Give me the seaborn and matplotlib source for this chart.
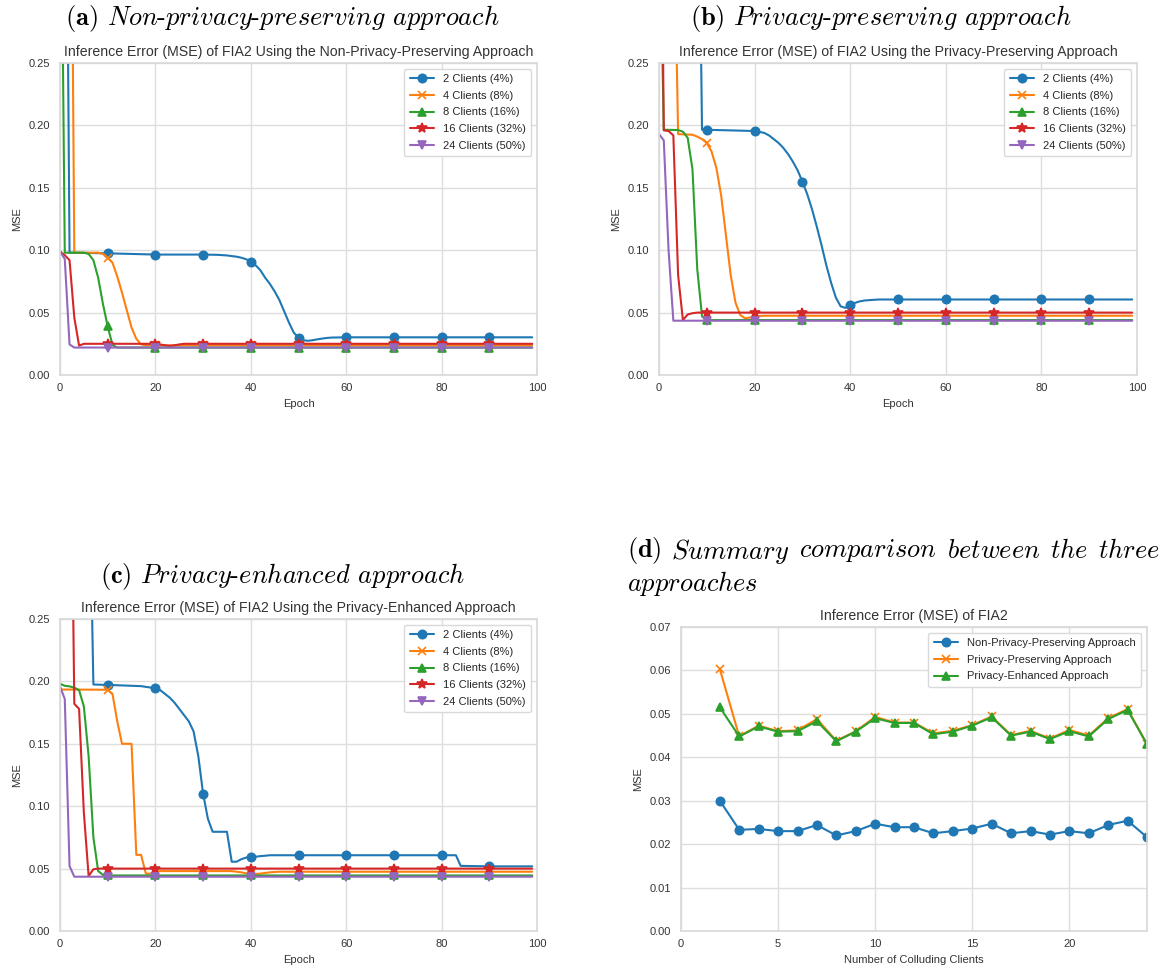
import matplotlib
matplotlib.use("Agg")
import matplotlib.pyplot as plt
import seaborn as sns

# ---------------- data ----------------
CLIENT_LABELS = ["2 Clients (4%)", "4 Clients (8%)", "8 Clients (16%)",
                 "16 Clients (32%)", "24 Clients (50%)"]
MARK_EPOCHS = [10, 20, 30, 40, 50, 60, 70, 80, 90]

# (a) Non-privacy-preserving approach
a2_epoch = [0, 1, 2, 10, 20, 30, 33, 35, 37, 38, 39, 40, 41, 42, 43, 44, 45, 46, 47, 48, 49,
            50, 51, 52, 53, 54, 55, 56, 57, 60, 70, 80, 90, 99]
a2_mse = [0.9, 0.6, 0.098, 0.0975, 0.0965, 0.0965, 0.0963, 0.0958, 0.0948, 0.094, 0.0928,
          0.0909, 0.088, 0.084, 0.078, 0.073, 0.067, 0.060, 0.051, 0.042, 0.034,
          0.0300, 0.0278, 0.0274, 0.0279, 0.0286, 0.0292, 0.0297, 0.0300, 0.0302, 0.0302,
          0.0302, 0.0302, 0.0302]
a4_epoch = [0, 1, 2, 3, 8, 9, 10, 11, 12, 13, 14, 15, 16, 17, 18, 20, 30, 40, 50, 60, 70,
            80, 90, 99]
a4_mse = [0.9, 0.8, 0.6, 0.098, 0.098, 0.097, 0.094, 0.090, 0.079, 0.066, 0.052, 0.038,
          0.029, 0.0245, 0.0238, 0.0238, 0.0238, 0.0238, 0.0238, 0.0238, 0.0238, 0.0238,
          0.0238, 0.0238]
a8_epoch = [0, 1, 5, 6, 7, 8, 9, 10, 11, 12, 20, 30, 40, 50, 60, 70, 80, 90, 99]
a8_mse = [0.5, 0.098, 0.098, 0.097, 0.092, 0.078, 0.057, 0.039, 0.024, 0.022, 0.022, 0.022,
          0.022, 0.022, 0.022, 0.022, 0.022, 0.022, 0.022]
a16_epoch = [0, 1, 2, 3, 4, 5, 10, 20, 21, 22, 23, 24, 25, 26, 30, 40, 50, 60, 70, 80, 90, 99]
a16_mse = [0.099, 0.096, 0.092, 0.046, 0.0235, 0.025, 0.025, 0.025, 0.0245, 0.0238, 0.0233,
           0.0238, 0.0245, 0.025, 0.025, 0.025, 0.025, 0.025, 0.025, 0.025, 0.025, 0.025]
a24_epoch = [0, 1, 2, 3, 10, 20, 30, 40, 50, 60, 70, 80, 90, 99]
a24_mse = [0.099, 0.093, 0.0245, 0.022, 0.022, 0.022, 0.022, 0.022, 0.022, 0.022, 0.022,
           0.022, 0.022, 0.022]

# (b) Privacy-preserving approach
b2_epoch = [0, 8, 9, 10, 20, 21, 22, 23, 24, 25, 26, 27, 28, 29, 30, 31, 32, 33, 34, 35, 36,
            37, 38, 39, 40, 41, 42, 43, 44, 46, 50, 60, 70, 80, 90, 99]
b2_mse = [0.9, 0.5, 0.1965, 0.1965, 0.1955, 0.1948, 0.194, 0.192, 0.189, 0.186, 0.182,
          0.177, 0.171, 0.164, 0.155, 0.145, 0.133, 0.119, 0.104, 0.088, 0.074, 0.062,
          0.055, 0.0538, 0.0562, 0.0578, 0.059, 0.0597, 0.060, 0.0605, 0.0605, 0.0605,
          0.0605, 0.0605, 0.0605, 0.0605]
b4_epoch = [0, 3, 4, 7, 8, 9, 10, 11, 12, 13, 14, 15, 16, 17, 18, 19, 20, 22, 30, 40, 50, 60,
            70, 80, 90, 99]
b4_mse = [0.9, 0.4, 0.193, 0.1925, 0.191, 0.189, 0.186, 0.179, 0.166, 0.144, 0.112, 0.080,
          0.058, 0.048, 0.0455, 0.046, 0.047, 0.0475, 0.0475, 0.0475, 0.0475, 0.0475,
          0.0475, 0.0475, 0.0475, 0.0475]
b8_epoch = [0, 1, 4, 5, 6, 7, 8, 9, 10, 20, 30, 40, 50, 60, 70, 80, 90, 99]
b8_mse = [0.4, 0.1965, 0.1963, 0.195, 0.19, 0.165, 0.085, 0.047, 0.044, 0.044, 0.044, 0.044,
          0.044, 0.044, 0.044, 0.044, 0.044, 0.044]
b16_epoch = [0, 1, 2, 3, 4, 5, 6, 7, 8, 10, 20, 30, 40, 50, 60, 70, 80, 90, 99]
b16_mse = [0.6, 0.196, 0.1955, 0.192, 0.08, 0.044, 0.0485, 0.0495, 0.050, 0.050, 0.050,
           0.050, 0.050, 0.050, 0.050, 0.050, 0.050, 0.050, 0.050]
b24_epoch = [0, 1, 2, 3, 10, 20, 30, 40, 50, 60, 70, 80, 90, 99]
b24_mse = [0.193, 0.188, 0.10, 0.0435, 0.0435, 0.0435, 0.0435, 0.0435, 0.0435, 0.0435,
           0.0435, 0.0435, 0.0435, 0.0435]

# (c) Privacy-enhanced approach
c2_epoch = [0, 6, 7, 10, 17, 20, 21, 22, 23, 24, 25, 26, 27, 28, 29, 30, 31, 32, 35, 36, 37,
            38, 39, 40, 41, 42, 43, 44, 50, 60, 70, 80, 83, 84, 90, 99]
c2_mse = [0.9, 0.4, 0.1975, 0.1972, 0.1962, 0.1945, 0.193, 0.190, 0.187, 0.183, 0.178,
          0.173, 0.168, 0.160, 0.140, 0.110, 0.090, 0.0795, 0.0795, 0.0555, 0.0555, 0.0575,
          0.0588, 0.0593, 0.0595, 0.060, 0.0603, 0.0607, 0.0607, 0.0607, 0.0607, 0.0607,
          0.0607, 0.0522, 0.0518, 0.0518]
c4_epoch = [0, 10, 11, 12, 13, 15, 16, 17, 18, 19, 20, 21, 30, 36, 38, 40, 42, 44, 46, 50,
            60, 70, 80, 90, 99]
c4_mse = [0.1935, 0.1933, 0.190, 0.168, 0.150, 0.150, 0.061, 0.061, 0.046, 0.046, 0.0475,
          0.048, 0.048, 0.048, 0.047, 0.0455, 0.046, 0.047, 0.0475, 0.0475, 0.0475, 0.0475,
          0.0475, 0.0475, 0.0475]
c8_epoch = [0, 1, 2, 3, 4, 5, 6, 7, 8, 9, 10, 20, 30, 40, 50, 60, 70, 80, 90, 99]
c8_mse = [0.198, 0.1965, 0.196, 0.195, 0.193, 0.180, 0.140, 0.075, 0.048, 0.045, 0.0445,
          0.0445, 0.0445, 0.0445, 0.0445, 0.0445, 0.0445, 0.0445, 0.0445, 0.0445]
c16_epoch = [0, 2, 3, 4, 5, 6, 7, 8, 10, 20, 30, 40, 50, 60, 70, 80, 90, 99]
c16_mse = [0.8, 0.5, 0.182, 0.178, 0.095, 0.044, 0.0495, 0.050, 0.050, 0.050, 0.050, 0.050,
           0.050, 0.050, 0.050, 0.050, 0.050, 0.050]
c24_epoch = [0, 1, 2, 3, 10, 20, 30, 40, 50, 60, 70, 80, 90, 99]
c24_mse = [0.196, 0.186, 0.052, 0.0435, 0.0435, 0.0435, 0.0435, 0.0435, 0.0435, 0.0435,
           0.0435, 0.0435, 0.0435, 0.0435]

# (d) Summary comparison
d_clients = [2, 3, 4, 5, 6, 7, 8, 9, 10, 11, 12, 13, 14, 15, 16, 17, 18, 19, 20, 21, 22, 23, 24]
d_non_private = [0.0300, 0.0233, 0.0235, 0.0230, 0.0230, 0.0244, 0.0220, 0.0230, 0.0247,
                 0.0239, 0.0239, 0.0225, 0.0230, 0.0236, 0.0247, 0.0225, 0.0230, 0.0222,
                 0.0230, 0.0225, 0.0244, 0.0254, 0.0216]
d_privacy_preserving = [0.0603, 0.0448, 0.0473, 0.0460, 0.0462, 0.0488, 0.0438, 0.0460,
                        0.0493, 0.0480, 0.0480, 0.0455, 0.0461, 0.0474, 0.0494, 0.0451,
                        0.0461, 0.0443, 0.0463, 0.0450, 0.0490, 0.0511, 0.0430]
d_privacy_enhanced = [0.0515, 0.0448, 0.0471, 0.0459, 0.0460, 0.0483, 0.0437, 0.0459,
                      0.0490, 0.0479, 0.0479, 0.0453, 0.0459, 0.0473, 0.0492, 0.0450,
                      0.0459, 0.0442, 0.0460, 0.0448, 0.0488, 0.0509, 0.0430]
D_LABELS = ["Non-Privacy-Preserving Approach", "Privacy-Preserving Approach",
            "Privacy-Enhanced Approach"]

# ---------------- style ----------------
sns.set_theme(style="whitegrid")
plt.rcParams["font.family"] = ["Liberation Sans", "DejaVu Sans"]
plt.rcParams["mathtext.fontset"] = "cm"
COLORS = ["#1f77b4", "#ff7f0e", "#2ca02c", "#d62728", "#9467bd"]
MARKERS = ["o", "x", "^", "*", "v"]

W, H = 1166, 969
fig = plt.figure(figsize=(W / 100, H / 100), dpi=100)


def px_axes(l, t, r, b):
    return fig.add_axes([l / W, 1 - b / H, (r - l) / W, (b - t) / H])


def style_axes(ax, title, xlabel):
    ax.set_title(title, fontsize=10.2, color="#333333", pad=5)
    ax.set_xlabel(xlabel, fontsize=8, color="#333333", labelpad=4)
    ax.set_ylabel("MSE", fontsize=8, color="#333333", labelpad=5)
    ax.tick_params(axis="x", labelsize=8, colors="#333333", length=0, pad=6)
    ax.tick_params(axis="y", labelsize=8, colors="#333333", length=0, pad=7)
    for s in ax.spines.values():
        s.set_color("#d9d9d9")
    ax.grid(color="#dedede", linewidth=1.0)


def add_legend(ax):
    h, l = ax.get_legend_handles_labels()
    ax.legend(h, l, loc="upper right", fontsize=8, frameon=True, labelspacing=0.6,
              handlelength=2.2, borderpad=0.5, framealpha=1, edgecolor="#d9d9d9")


def epoch_panel(ax, series, title):
    for (ep, mse), lab, col, mk in zip(series, CLIENT_LABELS, COLORS, MARKERS):
        idx = [i for i, e in enumerate(ep) if e in MARK_EPOCHS]
        sns.lineplot(x=ep, y=mse, ax=ax, color=col, marker=mk, markevery=idx,
                     markersize=7 if mk == "*" else 6, markeredgecolor=col,
                     markeredgewidth=1.2, linewidth=1.5, label=lab, errorbar=None,
                     sort=False)
    ax.set_xlim(0, 100)
    ax.set_ylim(0, 0.25)
    ax.set_xticks([0, 20, 40, 60, 80, 100])
    ax.set_yticks([0.0, 0.05, 0.10, 0.15, 0.20, 0.25])
    ax.set_yticklabels([f"{v:.2f}" for v in [0.0, 0.05, 0.10, 0.15, 0.20, 0.25]])
    style_axes(ax, title, "Epoch")
    add_legend(ax)


ax_a = px_axes(60, 63, 537, 375)
epoch_panel(ax_a, [(a2_epoch, a2_mse), (a4_epoch, a4_mse), (a8_epoch, a8_mse),
                   (a16_epoch, a16_mse), (a24_epoch, a24_mse)],
            "Inference Error (MSE) of FIA2 Using the Non-Privacy-Preserving Approach")
ax_b = px_axes(659, 63, 1137, 375)
epoch_panel(ax_b, [(b2_epoch, b2_mse), (b4_epoch, b4_mse), (b8_epoch, b8_mse),
                   (b16_epoch, b16_mse), (b24_epoch, b24_mse)],
            "Inference Error (MSE) of FIA2 Using the Privacy-Preserving Approach")
ax_c = px_axes(60, 619, 537, 931)
epoch_panel(ax_c, [(c2_epoch, c2_mse), (c4_epoch, c4_mse), (c8_epoch, c8_mse),
                   (c16_epoch, c16_mse), (c24_epoch, c24_mse)],
            "Inference Error (MSE) of FIA2 Using the Privacy-Enhanced Approach")

ax_d = px_axes(681, 627, 1147, 931)
for ys, lab, col, mk in zip([d_non_private, d_privacy_preserving, d_privacy_enhanced],
                            D_LABELS, COLORS[:3], MARKERS[:3]):
    sns.lineplot(x=d_clients, y=ys, ax=ax_d, color=col, marker=mk, markersize=6,
                 markeredgecolor=col, markeredgewidth=1.2, linewidth=1.5, label=lab,
                 errorbar=None)
ax_d.set_xlim(0, 24)
ax_d.set_ylim(0, 0.07)
ax_d.set_xticks([0, 5, 10, 15, 20])
ax_d.set_yticks([0.0, 0.01, 0.02, 0.03, 0.04, 0.05, 0.06, 0.07])
ax_d.set_yticklabels([f"{v:.2f}" for v in [0.0, 0.01, 0.02, 0.03, 0.04, 0.05, 0.06, 0.07]])
style_axes(ax_d, "Inference Error (MSE) of FIA2", "Number of Colluding Clients")
add_legend(ax_d)

# ---------------- captions (LaTeX-like) ----------------
CAP_FS = 19


def cap(label, words):
    parts = [r"$\mathbf{(" + label + r")}$"]
    for w in words:
        parts.append("-".join(r"$\mathit{" + p + "}$" for p in w.split("-")))
    return " ".join(parts)


fig.text(282 / W, 1 - 19 / H, cap("a", ["Non-privacy-preserving", "approach"]),
         ha="center", va="center", fontsize=CAP_FS, family="cmr10", color="black")
fig.text(881 / W, 1 - 19 / H, cap("b", ["Privacy-preserving", "approach"]),
         ha="center", va="center", fontsize=CAP_FS, family="cmr10", color="black")
fig.text(282 / W, 1 - 576 / H, cap("c", ["Privacy-enhanced", "approach"]),
         ha="center", va="center", fontsize=CAP_FS, family="cmr10", color="black")

# (d) justified first line
d_words = [r"$\mathbf{(d)}$", r"$\mathit{Summary}$", r"$\mathit{comparison}$",
           r"$\mathit{between}$", r"$\mathit{the}$", r"$\mathit{three}$"]
renderer = fig.canvas.get_renderer()
texts = [fig.text(0, 1 - 551 / H, w, ha="left", va="center", fontsize=CAP_FS,
                  family="cmr10", color="black") for w in d_words]
widths = [t.get_window_extent(renderer).width for t in texts]
x0, x1 = 627, 1160
gap = (x1 - x0 - sum(widths)) / (len(widths) - 1)
x = x0
for t, w in zip(texts, widths):
    t.set_x(x / W)
    x += w + gap
fig.text(x0 / W, 1 - 583 / H, r"$\mathit{approaches}$", ha="left", va="center",
         fontsize=CAP_FS, family="cmr10", color="black")

fig.savefig("out.png", dpi=100)
